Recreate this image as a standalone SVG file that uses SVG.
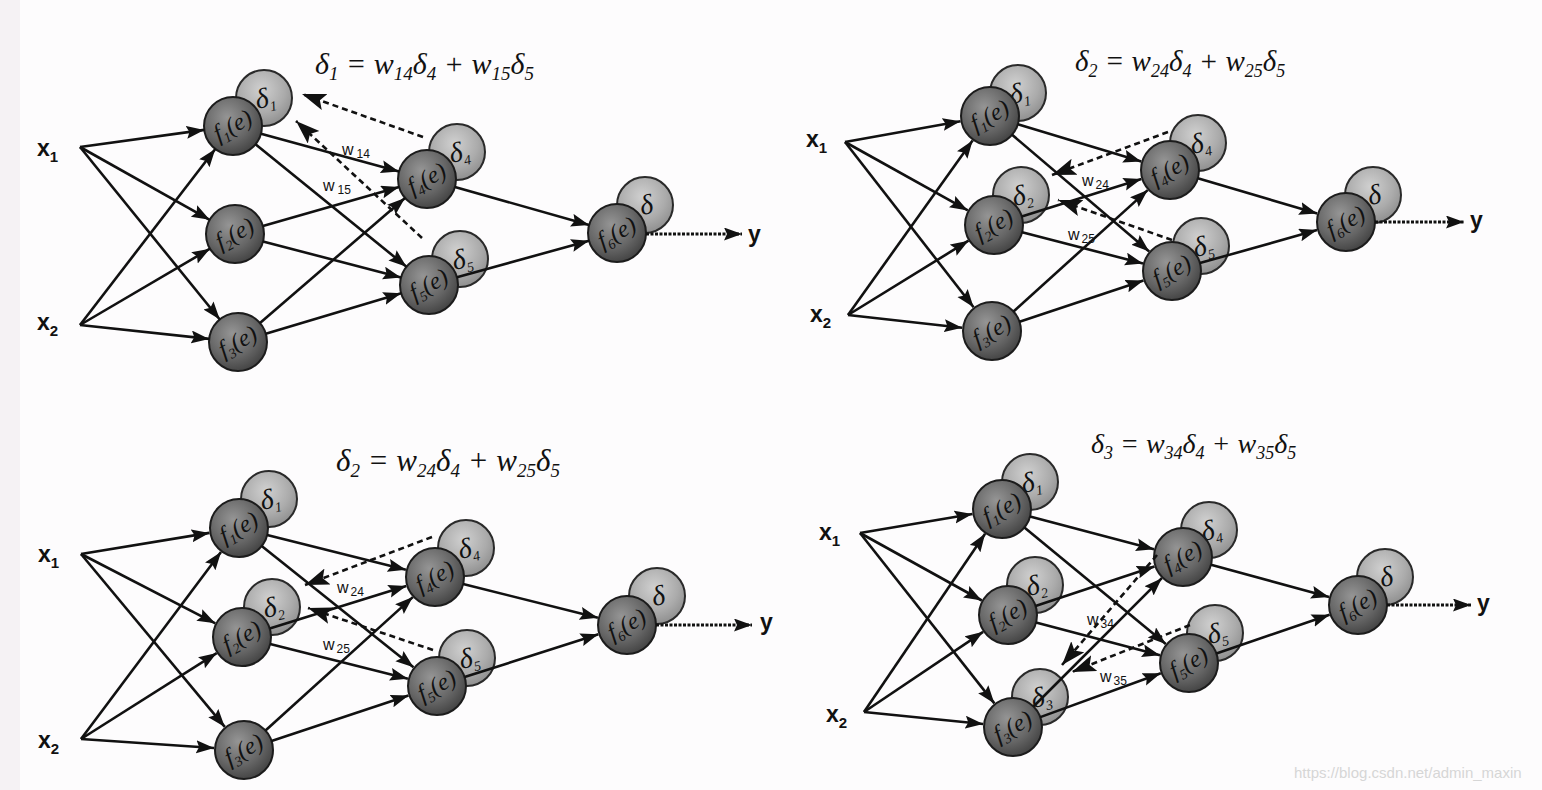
<svg xmlns="http://www.w3.org/2000/svg" width="1542" height="790" viewBox="0 0 1542 790">
<defs>
<radialGradient id="gf" cx="0.4" cy="0.35" r="0.7">
<stop offset="0" stop-color="#959595"/><stop offset="0.6" stop-color="#666"/><stop offset="1" stop-color="#404040"/>
</radialGradient>
<radialGradient id="gd" cx="0.45" cy="0.35" r="0.7">
<stop offset="0" stop-color="#d0d0d0"/><stop offset="0.6" stop-color="#ababab"/><stop offset="1" stop-color="#8a8a8a"/>
</radialGradient>
<marker id="ah" markerUnits="userSpaceOnUse" markerWidth="20" markerHeight="14" refX="18" refY="6.5" orient="auto"><path d="M0,0 L18,6.5 L0,13 L3,6.5 z" fill="#111"/></marker>
<marker id="ahd" markerUnits="userSpaceOnUse" markerWidth="26" markerHeight="18" refX="24" refY="8.5" orient="auto"><path d="M0,0 L24,8.5 L0,17 L5,8.5 z" fill="#111"/></marker>
<style>
.fc{fill:url(#gf);stroke:#1c1c1c;stroke-width:2}
.dc{fill:url(#gd);stroke:#2a2a2a;stroke-width:2}
.fl{font-family:"Liberation Serif",serif;font-style:italic;font-size:24px;fill:#111;text-anchor:middle}
.dl{font-family:"Liberation Serif",serif;font-style:italic;font-size:28px;fill:#111;text-anchor:middle}
.sb{font-size:14px}
.xl{font-family:"Liberation Sans",Arial,sans-serif;font-weight:bold;font-size:23px;fill:#111}
.xs{font-size:15px}
.wl{font-family:"Liberation Sans",Arial,sans-serif;font-size:16px;fill:#111}
.ws{font-size:12px}
.eq{font-family:"Liberation Serif",serif;font-style:italic;fill:#111}
#connectors line{stroke:#111;stroke-width:2.6;fill:none;marker-end:url(#ah)}
#connectors line.dash{stroke-dasharray:6 4;stroke-width:2.6;marker-end:url(#ahd)}
#connectors line.out{stroke-dasharray:3 1.5;stroke-width:3.2}
.wm{font-family:"Liberation Sans",Arial,sans-serif;font-size:15px;fill:#d6d6d6}
</style>
</defs>
<rect x="0" y="0" width="1542" height="790" fill="#fdfcfd"/>
<rect x="0" y="0" width="20" height="790" fill="#f5f2f4"/>

<!-- ============ TOP LEFT ============ -->
<text class="eq" x="315" y="74" font-size="30">δ<tspan font-size="19" dy="6">1</tspan><tspan dy="-6"> = w</tspan><tspan font-size="19" dy="6">14</tspan><tspan dy="-6">δ</tspan><tspan font-size="19" dy="6">4</tspan><tspan dy="-6"> + w</tspan><tspan font-size="19" dy="6">15</tspan><tspan dy="-6">δ</tspan><tspan font-size="19" dy="6">5</tspan></text>
<g id="tl-x1"><text class="xl" x="37" y="156">x<tspan class="xs" dy="6">1</tspan></text></g>
<g id="tl-x2"><text class="xl" x="37" y="330">x<tspan class="xs" dy="6">2</tspan></text></g>
<g id="tl-y"><text class="xl" x="748" y="242">y</text></g>
<g id="tl-n1">
<circle class="dc" cx="264" cy="98" r="28"/><text class="dl" transform="translate(267,107) rotate(-12)">δ<tspan class="sb" dy="5">1</tspan></text>
<circle class="fc" cx="233" cy="126" r="29"/><text class="fl" transform="translate(233,126) rotate(-28)" y="7">f<tspan class="sb" dy="5">1</tspan><tspan dy="-5">(e)</tspan></text>
</g>
<g id="tl-n2">
<circle class="fc" cx="235" cy="234" r="29"/><text class="fl" transform="translate(235,234) rotate(-28)" y="7">f<tspan class="sb" dy="5">2</tspan><tspan dy="-5">(e)</tspan></text>
</g>
<g id="tl-n3">
<circle class="fc" cx="238" cy="342" r="29"/><text class="fl" transform="translate(238,342) rotate(-28)" y="7">f<tspan class="sb" dy="5">3</tspan><tspan dy="-5">(e)</tspan></text>
</g>
<g id="tl-n4">
<circle class="dc" cx="457" cy="152" r="28"/><text class="dl" transform="translate(461,161) rotate(-12)">δ<tspan class="sb" dy="5">4</tspan></text>
<circle class="fc" cx="427" cy="179" r="29"/><text class="fl" transform="translate(427,179) rotate(-28)" y="7">f<tspan class="sb" dy="5">4</tspan><tspan dy="-5">(e)</tspan></text>
</g>
<g id="tl-n5">
<circle class="dc" cx="460" cy="259" r="28"/><text class="dl" transform="translate(464,268) rotate(-12)">δ<tspan class="sb" dy="5">5</tspan></text>
<circle class="fc" cx="429" cy="285" r="29"/><text class="fl" transform="translate(429,285) rotate(-28)" y="7">f<tspan class="sb" dy="5">5</tspan><tspan dy="-5">(e)</tspan></text>
</g>
<g id="tl-n6">
<circle class="dc" cx="645" cy="205" r="28"/><text class="dl" transform="translate(648,214) rotate(-12)">δ</text>
<circle class="fc" cx="617" cy="233" r="29"/><text class="fl" transform="translate(617,233) rotate(-28)" y="7">f<tspan class="sb" dy="5">6</tspan><tspan dy="-5">(e)</tspan></text>
</g>
<text class="wl" x="342" y="155">w<tspan class="ws" dx="3" dy="3">14</tspan></text>
<text class="wl" x="323" y="191">w<tspan class="ws" dx="3" dy="3">15</tspan></text>

<!-- ============ TOP RIGHT ============ -->
<text class="eq" x="1075" y="71" font-size="29">δ<tspan font-size="18" dy="6">2</tspan><tspan dy="-6"> = w</tspan><tspan font-size="18" dy="6">24</tspan><tspan dy="-6">δ</tspan><tspan font-size="18" dy="6">4</tspan><tspan dy="-6"> + w</tspan><tspan font-size="18" dy="6">25</tspan><tspan dy="-6">δ</tspan><tspan font-size="18" dy="6">5</tspan></text>
<g id="tr-x1"><text class="xl" x="806" y="147">x<tspan class="xs" dy="6">1</tspan></text></g>
<g id="tr-x2"><text class="xl" x="810" y="322">x<tspan class="xs" dy="6">2</tspan></text></g>
<g id="tr-y"><text class="xl" x="1470" y="228">y</text></g>
<g id="tr-n1">
<circle class="dc" cx="1018" cy="93" r="28"/><text class="dl" transform="translate(1021,102) rotate(-12)">δ<tspan class="sb" dy="5">1</tspan></text>
<circle class="fc" cx="990" cy="116" r="29"/><text class="fl" transform="translate(990,116) rotate(-28)" y="7">f<tspan class="sb" dy="5">1</tspan><tspan dy="-5">(e)</tspan></text>
</g>
<g id="tr-n2">
<circle class="dc" cx="1021" cy="195" r="28"/><text class="dl" transform="translate(1024,204) rotate(-12)">δ<tspan class="sb" dy="5">2</tspan></text>
<circle class="fc" cx="994" cy="225" r="29"/><text class="fl" transform="translate(994,225) rotate(-28)" y="7">f<tspan class="sb" dy="5">2</tspan><tspan dy="-5">(e)</tspan></text>
</g>
<g id="tr-n3">
<circle class="fc" cx="992" cy="331" r="29"/><text class="fl" transform="translate(992,331) rotate(-28)" y="7">f<tspan class="sb" dy="5">3</tspan><tspan dy="-5">(e)</tspan></text>
</g>
<g id="tr-n4">
<circle class="dc" cx="1198" cy="143" r="28"/><text class="dl" transform="translate(1202,152) rotate(-12)">δ<tspan class="sb" dy="5">4</tspan></text>
<circle class="fc" cx="1170" cy="170" r="29"/><text class="fl" transform="translate(1170,170) rotate(-28)" y="7">f<tspan class="sb" dy="5">4</tspan><tspan dy="-5">(e)</tspan></text>
</g>
<g id="tr-n5">
<circle class="dc" cx="1201" cy="246" r="28"/><text class="dl" transform="translate(1205,255) rotate(-12)">δ<tspan class="sb" dy="5">5</tspan></text>
<circle class="fc" cx="1172" cy="271" r="29"/><text class="fl" transform="translate(1172,271) rotate(-28)" y="7">f<tspan class="sb" dy="5">5</tspan><tspan dy="-5">(e)</tspan></text>
</g>
<g id="tr-n6">
<circle class="dc" cx="1373" cy="195" r="28"/><text class="dl" transform="translate(1376,204) rotate(-12)">δ</text>
<circle class="fc" cx="1346" cy="222" r="29"/><text class="fl" transform="translate(1346,222) rotate(-28)" y="7">f<tspan class="sb" dy="5">6</tspan><tspan dy="-5">(e)</tspan></text>
</g>
<text class="wl" x="1082" y="186">w<tspan class="ws" dx="2" dy="3">24</tspan></text>
<text class="wl" x="1068" y="240">w<tspan class="ws" dx="2" dy="3">25</tspan></text>

<!-- ============ BOTTOM LEFT ============ -->
<text class="eq" x="336" y="471" font-size="31">δ<tspan font-size="19" dy="6">2</tspan><tspan dy="-6"> = w</tspan><tspan font-size="19" dy="6">24</tspan><tspan dy="-6">δ</tspan><tspan font-size="19" dy="6">4</tspan><tspan dy="-6"> + w</tspan><tspan font-size="19" dy="6">25</tspan><tspan dy="-6">δ</tspan><tspan font-size="19" dy="6">5</tspan></text>
<g id="bl-x1"><text class="xl" x="38" y="562">x<tspan class="xs" dy="6">1</tspan></text></g>
<g id="bl-x2"><text class="xl" x="38" y="748">x<tspan class="xs" dy="6">2</tspan></text></g>
<g id="bl-y"><text class="xl" x="760" y="630">y</text></g>
<g id="bl-n1">
<circle class="dc" cx="269" cy="499" r="28"/><text class="dl" transform="translate(272,508) rotate(-12)">δ<tspan class="sb" dy="5">1</tspan></text>
<circle class="fc" cx="239" cy="528" r="29"/><text class="fl" transform="translate(239,528) rotate(-28)" y="7">f<tspan class="sb" dy="5">1</tspan><tspan dy="-5">(e)</tspan></text>
</g>
<g id="bl-n2">
<circle class="dc" cx="272" cy="607" r="28"/><text class="dl" transform="translate(275,616) rotate(-12)">δ<tspan class="sb" dy="5">2</tspan></text>
<circle class="fc" cx="242" cy="637" r="29"/><text class="fl" transform="translate(242,637) rotate(-28)" y="7">f<tspan class="sb" dy="5">2</tspan><tspan dy="-5">(e)</tspan></text>
</g>
<g id="bl-n3">
<circle class="fc" cx="244" cy="750" r="29"/><text class="fl" transform="translate(244,750) rotate(-28)" y="7">f<tspan class="sb" dy="5">3</tspan><tspan dy="-5">(e)</tspan></text>
</g>
<g id="bl-n4">
<circle class="dc" cx="466" cy="548" r="28"/><text class="dl" transform="translate(470,557) rotate(-12)">δ<tspan class="sb" dy="5">4</tspan></text>
<circle class="fc" cx="435" cy="577" r="29"/><text class="fl" transform="translate(435,577) rotate(-28)" y="7">f<tspan class="sb" dy="5">4</tspan><tspan dy="-5">(e)</tspan></text>
</g>
<g id="bl-n5">
<circle class="dc" cx="467" cy="658" r="28"/><text class="dl" transform="translate(471,667) rotate(-12)">δ<tspan class="sb" dy="5">5</tspan></text>
<circle class="fc" cx="437" cy="686" r="29"/><text class="fl" transform="translate(437,686) rotate(-28)" y="7">f<tspan class="sb" dy="5">5</tspan><tspan dy="-5">(e)</tspan></text>
</g>
<g id="bl-n6">
<circle class="dc" cx="657" cy="596" r="28"/><text class="dl" transform="translate(660,605) rotate(-12)">δ</text>
<circle class="fc" cx="627" cy="625" r="29"/><text class="fl" transform="translate(627,625) rotate(-28)" y="7">f<tspan class="sb" dy="5">6</tspan><tspan dy="-5">(e)</tspan></text>
</g>
<text class="wl" x="337" y="593">w<tspan class="ws" dx="2" dy="3">24</tspan></text>
<text class="wl" x="323" y="650">w<tspan class="ws" dx="2" dy="3">25</tspan></text>

<!-- ============ BOTTOM RIGHT ============ -->
<text class="eq" x="1091" y="453" font-size="28">δ<tspan font-size="18" dy="6">3</tspan><tspan dy="-6"> = w</tspan><tspan font-size="18" dy="6">34</tspan><tspan dy="-6">δ</tspan><tspan font-size="18" dy="6">4</tspan><tspan dy="-6"> + w</tspan><tspan font-size="18" dy="6">35</tspan><tspan dy="-6">δ</tspan><tspan font-size="18" dy="6">5</tspan></text>
<g id="br-x1"><text class="xl" x="819" y="540">x<tspan class="xs" dy="6">1</tspan></text></g>
<g id="br-x2"><text class="xl" x="826" y="722">x<tspan class="xs" dy="6">2</tspan></text></g>
<g id="br-y"><text class="xl" x="1477" y="611">y</text></g>
<g id="br-n1">
<circle class="dc" cx="1030" cy="482" r="28"/><text class="dl" transform="translate(1033,491) rotate(-12)">δ<tspan class="sb" dy="5">1</tspan></text>
<circle class="fc" cx="1002" cy="509" r="29"/><text class="fl" transform="translate(1002,509) rotate(-28)" y="7">f<tspan class="sb" dy="5">1</tspan><tspan dy="-5">(e)</tspan></text>
</g>
<g id="br-n2">
<circle class="dc" cx="1035" cy="585" r="28"/><text class="dl" transform="translate(1038,594) rotate(-12)">δ<tspan class="sb" dy="5">2</tspan></text>
<circle class="fc" cx="1008" cy="615" r="29"/><text class="fl" transform="translate(1008,615) rotate(-28)" y="7">f<tspan class="sb" dy="5">2</tspan><tspan dy="-5">(e)</tspan></text>
</g>
<g id="br-n3">
<circle class="dc" cx="1040" cy="697" r="28"/><text class="dl" transform="translate(1043,706) rotate(-12)">δ<tspan class="sb" dy="5">3</tspan></text>
<circle class="fc" cx="1013" cy="727" r="29"/><text class="fl" transform="translate(1013,727) rotate(-28)" y="7">f<tspan class="sb" dy="5">3</tspan><tspan dy="-5">(e)</tspan></text>
</g>
<g id="br-n4">
<circle class="dc" cx="1209" cy="530" r="28"/><text class="dl" transform="translate(1213,539) rotate(-12)">δ<tspan class="sb" dy="5">4</tspan></text>
<circle class="fc" cx="1183" cy="557" r="29"/><text class="fl" transform="translate(1183,557) rotate(-28)" y="7">f<tspan class="sb" dy="5">4</tspan><tspan dy="-5">(e)</tspan></text>
</g>
<g id="br-n5">
<circle class="dc" cx="1215" cy="633" r="28"/><text class="dl" transform="translate(1219,642) rotate(-12)">δ<tspan class="sb" dy="5">5</tspan></text>
<circle class="fc" cx="1189" cy="663" r="29"/><text class="fl" transform="translate(1189,663) rotate(-28)" y="7">f<tspan class="sb" dy="5">5</tspan><tspan dy="-5">(e)</tspan></text>
</g>
<g id="br-n6">
<circle class="dc" cx="1385" cy="577" r="28"/><text class="dl" transform="translate(1388,586) rotate(-12)">δ</text>
<circle class="fc" cx="1358" cy="605" r="29"/><text class="fl" transform="translate(1358,605) rotate(-28)" y="7">f<tspan class="sb" dy="5">6</tspan><tspan dy="-5">(e)</tspan></text>
</g>
<text class="wl" x="1087" y="625">w<tspan class="ws" dx="2" dy="3">34</tspan></text>
<text class="wl" x="1100" y="682">w<tspan class="ws" dx="2" dy="3">35</tspan></text>

<!-- ============ CONNECTORS ============ -->
<g id="connectors">
<g id="tl-conn">
<line x1="80" y1="147" x2="204.3" y2="129.9"/>
<line x1="80" y1="147" x2="209.7" y2="219.8"/>
<line x1="80" y1="147" x2="219.8" y2="319.5"/>
<line x1="80" y1="325" x2="215.3" y2="149.0"/>
<line x1="80" y1="325" x2="210.0" y2="248.7"/>
<line x1="80" y1="325" x2="209.2" y2="338.9"/>
<line x1="261.0" y1="133.7" x2="399.0" y2="171.4"/>
<line x1="255.5" y1="144.3" x2="406.5" y2="266.7"/>
<line x1="262.9" y1="226.0" x2="399.1" y2="187.0"/>
<line x1="263.0" y1="241.4" x2="401.0" y2="277.6"/>
<line x1="260.0" y1="323.1" x2="405.0" y2="197.9"/>
<line x1="265.8" y1="333.7" x2="401.2" y2="293.3"/>
<line x1="454.9" y1="186.9" x2="589.1" y2="225.1"/>
<line x1="456.9" y1="277.3" x2="589.1" y2="240.7"/>
<line class="out" x1="646" y1="234" x2="742" y2="234"/>
<line class="dash" x1="423" y1="137" x2="302" y2="94"/>
<line class="dash" x1="422" y1="238" x2="296" y2="121"/>
</g>
<g id="tr-conn">
<line x1="845" y1="142" x2="960.5" y2="121.3"/>
<line x1="845" y1="142" x2="967.8" y2="210.4"/>
<line x1="845" y1="142" x2="973.6" y2="307.3"/>
<line x1="848" y1="315" x2="972.6" y2="140.4"/>
<line x1="848" y1="315" x2="968.5" y2="240.7"/>
<line x1="848" y1="315" x2="962.2" y2="327.7"/>
<line x1="1017.8" y1="124.3" x2="1141.3" y2="161.4"/>
<line x1="1012.1" y1="134.8" x2="1149.2" y2="251.6"/>
<line x1="1021.7" y1="216.4" x2="1141.4" y2="178.9"/>
<line x1="1022.1" y1="232.3" x2="1143.0" y2="263.5"/>
<line x1="1013.5" y1="311.5" x2="1147.7" y2="190.1"/>
<line x1="1019.5" y1="321.8" x2="1143.5" y2="280.5"/>
<line x1="1197.8" y1="178.2" x2="1317.2" y2="213.5"/>
<line x1="1199.9" y1="263.1" x2="1317.1" y2="230.1"/>
<line class="out" x1="1375" y1="222" x2="1464" y2="222"/>
<line class="dash" x1="1168" y1="132" x2="1052" y2="175"/>
<line class="dash" x1="1172" y1="240" x2="1058" y2="200"/>
</g>
<g id="bl-conn">
<line x1="81" y1="554" x2="209.4" y2="532.9"/>
<line x1="81" y1="554" x2="215.3" y2="623.3"/>
<line x1="81" y1="554" x2="224.8" y2="726.9"/>
<line x1="81" y1="739" x2="221.0" y2="552.0"/>
<line x1="81" y1="739" x2="216.7" y2="653.1"/>
<line x1="81" y1="739" x2="214.1" y2="748.0"/>
<line x1="267.1" y1="535.0" x2="405.9" y2="569.7"/>
<line x1="261.7" y1="546.1" x2="413.5" y2="667.3"/>
<line x1="269.7" y1="628.4" x2="406.3" y2="585.9"/>
<line x1="270.1" y1="644.1" x2="407.9" y2="678.7"/>
<line x1="265.5" y1="730.5" x2="412.8" y2="597.1"/>
<line x1="271.5" y1="740.9" x2="408.5" y2="695.4"/>
<line x1="463.1" y1="584.0" x2="597.9" y2="617.7"/>
<line x1="464.6" y1="677.1" x2="598.4" y2="634.2"/>
<line class="out" x1="656" y1="625" x2="752" y2="625"/>
<line class="dash" x1="432" y1="537" x2="305" y2="585"/>
<line class="dash" x1="433" y1="650" x2="308" y2="608"/>
</g>
<g id="br-conn">
<line x1="860" y1="533" x2="972.4" y2="514.0"/>
<line x1="860" y1="533" x2="981.8" y2="600.5"/>
<line x1="860" y1="533" x2="994.4" y2="703.4"/>
<line x1="864" y1="712" x2="985.1" y2="533.8"/>
<line x1="864" y1="712" x2="983.1" y2="631.8"/>
<line x1="864" y1="712" x2="983.2" y2="724.0"/>
<line x1="1030.0" y1="516.4" x2="1154.0" y2="549.3"/>
<line x1="1024.4" y1="527.4" x2="1165.8" y2="643.9"/>
<line x1="1035.5" y1="605.9" x2="1154.5" y2="566.4"/>
<line x1="1036.0" y1="622.4" x2="1160.0" y2="655.3"/>
<line x1="1033.5" y1="706.5" x2="1161.8" y2="578.2"/>
<line x1="1040.3" y1="717.1" x2="1160.8" y2="673.3"/>
<line x1="1211.0" y1="564.7" x2="1329.1" y2="597.1"/>
<line x1="1216.4" y1="653.6" x2="1329.6" y2="614.7"/>
<line class="out" x1="1387" y1="605" x2="1471" y2="605"/>
<line class="dash" x1="1157" y1="555" x2="1062" y2="665"/>
<line class="dash" x1="1190" y1="625" x2="1072" y2="672"/>
</g>
</g>

<text class="wm" x="1294" y="778">https://blog.csdn.net/admin_maxin</text>
</svg>
